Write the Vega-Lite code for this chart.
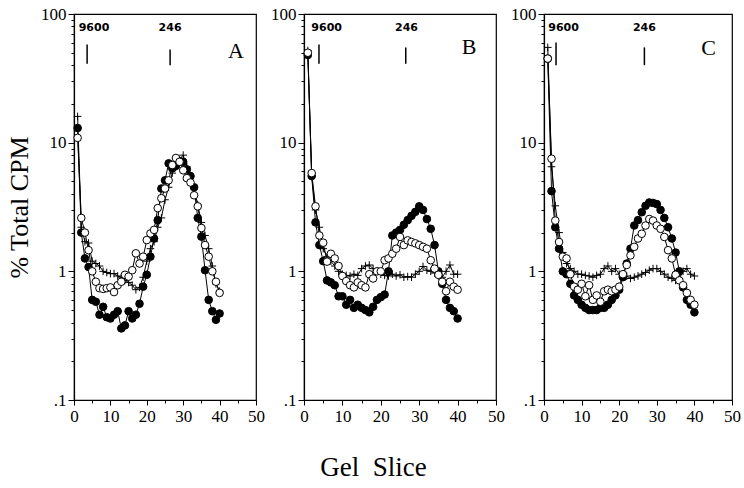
{
"$schema":"https://vega.github.io/schema/vega-lite/v6.json",
"background":"white",
"padding":{"left":5,"top":4,"right":4,"bottom":4},
"bounds":"flush",
"spacing":48,
"title":{"text":"Gel\u00a0\u00a0Slice","orient":"bottom","anchor":"middle","font":"Liberation Serif","fontSize":27,"fontWeight":"normal","color":"black","offset":30},
"config":{"view":{"stroke":"black","strokeWidth":1.2},"axis":{"grid":false,"domainColor":"black","tickColor":"black","labelColor":"black","titleColor":"black","labelFont":"Liberation Serif","titleFont":"Liberation Serif","labelFontSize":17,"titleFontSize":26,"titleFontWeight":"normal","labelFlush":false,"labelBound":false,"labelOverlap":false,"domainWidth":1.2,"tickWidth":1}},
"datasets":{
"pts":[
{"p":"A","s":"f","x":1,"y":13},{"p":"A","s":"f","x":2,"y":2.0},{"p":"A","s":"f","x":3,"y":1.26},{"p":"A","s":"f","x":4,"y":1.08},{"p":"A","s":"f","x":5,"y":0.6},{"p":"A","s":"f","x":6,"y":0.58},{"p":"A","s":"f","x":7,"y":0.46},{"p":"A","s":"f","x":8,"y":0.53},{"p":"A","s":"f","x":9,"y":0.44},{"p":"A","s":"f","x":10,"y":0.43},{"p":"A","s":"f","x":11,"y":0.46},{"p":"A","s":"f","x":12,"y":0.49},{"p":"A","s":"f","x":13,"y":0.36},{"p":"A","s":"f","x":14,"y":0.38},{"p":"A","s":"f","x":15,"y":0.49},{"p":"A","s":"f","x":16,"y":0.43},{"p":"A","s":"f","x":17,"y":0.46},{"p":"A","s":"f","x":18,"y":0.56},{"p":"A","s":"f","x":19,"y":0.76},{"p":"A","s":"f","x":20,"y":0.94},{"p":"A","s":"f","x":21,"y":1.3},{"p":"A","s":"f","x":22,"y":1.8},{"p":"A","s":"f","x":23,"y":2.5},{"p":"A","s":"f","x":24,"y":4.4},{"p":"A","s":"f","x":25,"y":5.1},{"p":"A","s":"f","x":26,"y":6.9},{"p":"A","s":"f","x":27,"y":6.3},{"p":"A","s":"f","x":28,"y":6.6},{"p":"A","s":"f","x":29,"y":7.2},{"p":"A","s":"f","x":30,"y":7.1},{"p":"A","s":"f","x":31,"y":6.2},{"p":"A","s":"f","x":32,"y":5.5},{"p":"A","s":"f","x":33,"y":4.5},{"p":"A","s":"f","x":34,"y":2.6},{"p":"A","s":"f","x":35,"y":1.86},{"p":"A","s":"f","x":36,"y":1.02},{"p":"A","s":"f","x":37,"y":0.6},{"p":"A","s":"f","x":38,"y":0.49},{"p":"A","s":"f","x":39,"y":0.42},{"p":"A","s":"f","x":40,"y":0.47},
{"p":"A","s":"c","x":1,"y":16},{"p":"A","s":"c","x":2,"y":2.2},{"p":"A","s":"c","x":3,"y":1.7},{"p":"A","s":"c","x":4,"y":1.66},{"p":"A","s":"c","x":5,"y":1.2},{"p":"A","s":"c","x":6,"y":1.15},{"p":"A","s":"c","x":7,"y":1.1},{"p":"A","s":"c","x":8,"y":1.0},{"p":"A","s":"c","x":9,"y":0.98},{"p":"A","s":"c","x":10,"y":0.96},{"p":"A","s":"c","x":11,"y":0.96},{"p":"A","s":"c","x":12,"y":0.92},{"p":"A","s":"c","x":13,"y":0.9},{"p":"A","s":"c","x":14,"y":0.85},{"p":"A","s":"c","x":15,"y":0.82},{"p":"A","s":"c","x":16,"y":0.78},{"p":"A","s":"c","x":17,"y":0.72},{"p":"A","s":"c","x":18,"y":0.75},{"p":"A","s":"c","x":19,"y":0.9},{"p":"A","s":"c","x":20,"y":1.2},{"p":"A","s":"c","x":21,"y":1.5},{"p":"A","s":"c","x":22,"y":1.7},{"p":"A","s":"c","x":23,"y":2.2},{"p":"A","s":"c","x":24,"y":2.6},{"p":"A","s":"c","x":25,"y":3.6},{"p":"A","s":"c","x":26,"y":4.5},{"p":"A","s":"c","x":27,"y":5.8},{"p":"A","s":"c","x":28,"y":6.5},{"p":"A","s":"c","x":29,"y":7.4},{"p":"A","s":"c","x":30,"y":8.0},{"p":"A","s":"c","x":31,"y":6.5},{"p":"A","s":"c","x":32,"y":5.5},{"p":"A","s":"c","x":33,"y":4.4},{"p":"A","s":"c","x":34,"y":3.3},{"p":"A","s":"c","x":35,"y":2.4},{"p":"A","s":"c","x":36,"y":1.9},{"p":"A","s":"c","x":37,"y":1.5},{"p":"A","s":"c","x":38,"y":1.1},{"p":"A","s":"c","x":39,"y":0.8},{"p":"A","s":"c","x":40,"y":0.7},
{"p":"A","s":"o","x":1,"y":10.9},{"p":"A","s":"o","x":2,"y":2.6},{"p":"A","s":"o","x":3,"y":2.0},{"p":"A","s":"o","x":4,"y":1.46},{"p":"A","s":"o","x":5,"y":1.0},{"p":"A","s":"o","x":6,"y":0.83},{"p":"A","s":"o","x":7,"y":0.74},{"p":"A","s":"o","x":8,"y":0.73},{"p":"A","s":"o","x":9,"y":0.74},{"p":"A","s":"o","x":10,"y":0.75},{"p":"A","s":"o","x":11,"y":0.69},{"p":"A","s":"o","x":12,"y":0.78},{"p":"A","s":"o","x":13,"y":0.83},{"p":"A","s":"o","x":14,"y":0.94},{"p":"A","s":"o","x":15,"y":0.91},{"p":"A","s":"o","x":16,"y":1.02},{"p":"A","s":"o","x":17,"y":1.38},{"p":"A","s":"o","x":18,"y":1.15},{"p":"A","s":"o","x":19,"y":1.3},{"p":"A","s":"o","x":20,"y":1.75},{"p":"A","s":"o","x":21,"y":1.97},{"p":"A","s":"o","x":22,"y":2.1},{"p":"A","s":"o","x":23,"y":3.1},{"p":"A","s":"o","x":24,"y":3.7},{"p":"A","s":"o","x":25,"y":4.4},{"p":"A","s":"o","x":26,"y":5.1},{"p":"A","s":"o","x":27,"y":6.7},{"p":"A","s":"o","x":28,"y":7.6},{"p":"A","s":"o","x":29,"y":7.1},{"p":"A","s":"o","x":30,"y":6.1},{"p":"A","s":"o","x":31,"y":5.3},{"p":"A","s":"o","x":32,"y":4.9},{"p":"A","s":"o","x":33,"y":3.9},{"p":"A","s":"o","x":34,"y":3.2},{"p":"A","s":"o","x":35,"y":2.17},{"p":"A","s":"o","x":36,"y":1.6},{"p":"A","s":"o","x":37,"y":1.3},{"p":"A","s":"o","x":38,"y":1.0},{"p":"A","s":"o","x":39,"y":0.83},{"p":"A","s":"o","x":40,"y":0.68},
{"p":"B","s":"f","x":1,"y":48},{"p":"B","s":"f","x":2,"y":5.5},{"p":"B","s":"f","x":3,"y":2.4},{"p":"B","s":"f","x":4,"y":1.6},{"p":"B","s":"f","x":5,"y":1.2},{"p":"B","s":"f","x":6,"y":0.85},{"p":"B","s":"f","x":7,"y":0.82},{"p":"B","s":"f","x":8,"y":0.78},{"p":"B","s":"f","x":9,"y":0.64},{"p":"B","s":"f","x":10,"y":0.64},{"p":"B","s":"f","x":11,"y":0.55},{"p":"B","s":"f","x":12,"y":0.6},{"p":"B","s":"f","x":13,"y":0.52},{"p":"B","s":"f","x":14,"y":0.55},{"p":"B","s":"f","x":15,"y":0.52},{"p":"B","s":"f","x":16,"y":0.5},{"p":"B","s":"f","x":17,"y":0.48},{"p":"B","s":"f","x":18,"y":0.53},{"p":"B","s":"f","x":19,"y":0.6},{"p":"B","s":"f","x":20,"y":0.63},{"p":"B","s":"f","x":21,"y":0.66},{"p":"B","s":"f","x":22,"y":1.0},{"p":"B","s":"f","x":23,"y":1.9},{"p":"B","s":"f","x":24,"y":2.0},{"p":"B","s":"f","x":25,"y":2.1},{"p":"B","s":"f","x":26,"y":2.3},{"p":"B","s":"f","x":27,"y":2.5},{"p":"B","s":"f","x":28,"y":2.7},{"p":"B","s":"f","x":29,"y":2.9},{"p":"B","s":"f","x":30,"y":3.2},{"p":"B","s":"f","x":31,"y":3.0},{"p":"B","s":"f","x":32,"y":2.55},{"p":"B","s":"f","x":33,"y":2.14},{"p":"B","s":"f","x":34,"y":1.6},{"p":"B","s":"f","x":35,"y":1.0},{"p":"B","s":"f","x":36,"y":0.8},{"p":"B","s":"f","x":37,"y":0.6},{"p":"B","s":"f","x":38,"y":0.52},{"p":"B","s":"f","x":39,"y":0.49},{"p":"B","s":"f","x":40,"y":0.43},
{"p":"B","s":"c","x":1,"y":52},{"p":"B","s":"c","x":2,"y":5.5},{"p":"B","s":"c","x":3,"y":3.0},{"p":"B","s":"c","x":4,"y":2.2},{"p":"B","s":"c","x":5,"y":1.5},{"p":"B","s":"c","x":6,"y":1.3},{"p":"B","s":"c","x":7,"y":1.2},{"p":"B","s":"c","x":8,"y":1.1},{"p":"B","s":"c","x":9,"y":1.0},{"p":"B","s":"c","x":10,"y":0.95},{"p":"B","s":"c","x":11,"y":0.93},{"p":"B","s":"c","x":12,"y":0.92},{"p":"B","s":"c","x":13,"y":0.95},{"p":"B","s":"c","x":14,"y":0.93},{"p":"B","s":"c","x":15,"y":1.05},{"p":"B","s":"c","x":16,"y":1.1},{"p":"B","s":"c","x":17,"y":1.12},{"p":"B","s":"c","x":18,"y":1.05},{"p":"B","s":"c","x":19,"y":1.0},{"p":"B","s":"c","x":20,"y":0.95},{"p":"B","s":"c","x":21,"y":0.93},{"p":"B","s":"c","x":22,"y":0.92},{"p":"B","s":"c","x":23,"y":0.95},{"p":"B","s":"c","x":24,"y":0.92},{"p":"B","s":"c","x":25,"y":0.94},{"p":"B","s":"c","x":26,"y":0.9},{"p":"B","s":"c","x":27,"y":0.91},{"p":"B","s":"c","x":28,"y":0.9},{"p":"B","s":"c","x":29,"y":0.95},{"p":"B","s":"c","x":30,"y":1.0},{"p":"B","s":"c","x":31,"y":1.09},{"p":"B","s":"c","x":32,"y":1.02},{"p":"B","s":"c","x":33,"y":1.0},{"p":"B","s":"c","x":34,"y":0.97},{"p":"B","s":"c","x":35,"y":0.92},{"p":"B","s":"c","x":36,"y":0.9},{"p":"B","s":"c","x":37,"y":1.0},{"p":"B","s":"c","x":38,"y":1.12},{"p":"B","s":"c","x":39,"y":0.95},{"p":"B","s":"c","x":40,"y":0.95},
{"p":"B","s":"o","x":1,"y":50},{"p":"B","s":"o","x":2,"y":5.8},{"p":"B","s":"o","x":3,"y":3.2},{"p":"B","s":"o","x":4,"y":1.9},{"p":"B","s":"o","x":5,"y":1.67},{"p":"B","s":"o","x":6,"y":1.19},{"p":"B","s":"o","x":7,"y":1.37},{"p":"B","s":"o","x":8,"y":1.26},{"p":"B","s":"o","x":9,"y":1.1},{"p":"B","s":"o","x":10,"y":0.92},{"p":"B","s":"o","x":11,"y":0.84},{"p":"B","s":"o","x":12,"y":0.78},{"p":"B","s":"o","x":13,"y":0.75},{"p":"B","s":"o","x":14,"y":0.82},{"p":"B","s":"o","x":15,"y":0.78},{"p":"B","s":"o","x":16,"y":0.75},{"p":"B","s":"o","x":17,"y":0.95},{"p":"B","s":"o","x":18,"y":0.88},{"p":"B","s":"o","x":19,"y":1.0},{"p":"B","s":"o","x":20,"y":1.0},{"p":"B","s":"o","x":21,"y":1.22},{"p":"B","s":"o","x":22,"y":1.26},{"p":"B","s":"o","x":23,"y":1.37},{"p":"B","s":"o","x":24,"y":1.5},{"p":"B","s":"o","x":25,"y":1.85},{"p":"B","s":"o","x":26,"y":1.6},{"p":"B","s":"o","x":27,"y":1.74},{"p":"B","s":"o","x":28,"y":1.69},{"p":"B","s":"o","x":29,"y":1.65},{"p":"B","s":"o","x":30,"y":1.6},{"p":"B","s":"o","x":31,"y":1.55},{"p":"B","s":"o","x":32,"y":1.5},{"p":"B","s":"o","x":33,"y":1.22},{"p":"B","s":"o","x":34,"y":1.05},{"p":"B","s":"o","x":35,"y":0.94},{"p":"B","s":"o","x":36,"y":0.83},{"p":"B","s":"o","x":37,"y":0.7},{"p":"B","s":"o","x":38,"y":0.83},{"p":"B","s":"o","x":39,"y":0.76},{"p":"B","s":"o","x":40,"y":0.72},
{"p":"C","s":"f","x":1,"y":45},{"p":"C","s":"f","x":2,"y":4.2},{"p":"C","s":"f","x":3,"y":2.2},{"p":"C","s":"f","x":4,"y":1.5},{"p":"C","s":"f","x":5,"y":1.0},{"p":"C","s":"f","x":6,"y":0.95},{"p":"C","s":"f","x":7,"y":0.8},{"p":"C","s":"f","x":8,"y":0.65},{"p":"C","s":"f","x":9,"y":0.6},{"p":"C","s":"f","x":10,"y":0.55},{"p":"C","s":"f","x":11,"y":0.52},{"p":"C","s":"f","x":12,"y":0.5},{"p":"C","s":"f","x":13,"y":0.5},{"p":"C","s":"f","x":14,"y":0.5},{"p":"C","s":"f","x":15,"y":0.52},{"p":"C","s":"f","x":16,"y":0.52},{"p":"C","s":"f","x":17,"y":0.55},{"p":"C","s":"f","x":18,"y":0.6},{"p":"C","s":"f","x":19,"y":0.65},{"p":"C","s":"f","x":20,"y":0.72},{"p":"C","s":"f","x":21,"y":0.9},{"p":"C","s":"f","x":22,"y":1.15},{"p":"C","s":"f","x":23,"y":1.5},{"p":"C","s":"f","x":24,"y":2.27},{"p":"C","s":"f","x":25,"y":2.5},{"p":"C","s":"f","x":26,"y":2.88},{"p":"C","s":"f","x":27,"y":3.23},{"p":"C","s":"f","x":28,"y":3.43},{"p":"C","s":"f","x":29,"y":3.4},{"p":"C","s":"f","x":30,"y":3.33},{"p":"C","s":"f","x":31,"y":3.0},{"p":"C","s":"f","x":32,"y":2.6},{"p":"C","s":"f","x":33,"y":2.2},{"p":"C","s":"f","x":34,"y":1.8},{"p":"C","s":"f","x":35,"y":1.4},{"p":"C","s":"f","x":36,"y":1.0},{"p":"C","s":"f","x":37,"y":0.75},{"p":"C","s":"f","x":38,"y":0.6},{"p":"C","s":"f","x":39,"y":0.55},{"p":"C","s":"f","x":40,"y":0.48},
{"p":"C","s":"c","x":1,"y":55},{"p":"C","s":"c","x":2,"y":6.5},{"p":"C","s":"c","x":3,"y":3.23},{"p":"C","s":"c","x":4,"y":2.0},{"p":"C","s":"c","x":5,"y":1.4},{"p":"C","s":"c","x":6,"y":1.15},{"p":"C","s":"c","x":7,"y":1.05},{"p":"C","s":"c","x":8,"y":1.0},{"p":"C","s":"c","x":9,"y":0.95},{"p":"C","s":"c","x":10,"y":0.95},{"p":"C","s":"c","x":11,"y":0.93},{"p":"C","s":"c","x":12,"y":0.92},{"p":"C","s":"c","x":13,"y":0.9},{"p":"C","s":"c","x":14,"y":0.93},{"p":"C","s":"c","x":15,"y":0.95},{"p":"C","s":"c","x":16,"y":1.05},{"p":"C","s":"c","x":17,"y":1.1},{"p":"C","s":"c","x":18,"y":1.0},{"p":"C","s":"c","x":19,"y":1.05},{"p":"C","s":"c","x":20,"y":0.95},{"p":"C","s":"c","x":21,"y":0.9},{"p":"C","s":"c","x":22,"y":0.92},{"p":"C","s":"c","x":23,"y":0.88},{"p":"C","s":"c","x":24,"y":0.9},{"p":"C","s":"c","x":25,"y":0.92},{"p":"C","s":"c","x":26,"y":0.95},{"p":"C","s":"c","x":27,"y":0.98},{"p":"C","s":"c","x":28,"y":1.02},{"p":"C","s":"c","x":29,"y":1.05},{"p":"C","s":"c","x":30,"y":1.05},{"p":"C","s":"c","x":31,"y":1.0},{"p":"C","s":"c","x":32,"y":0.95},{"p":"C","s":"c","x":33,"y":0.9},{"p":"C","s":"c","x":34,"y":0.88},{"p":"C","s":"c","x":35,"y":0.85},{"p":"C","s":"c","x":36,"y":0.88},{"p":"C","s":"c","x":37,"y":1.0},{"p":"C","s":"c","x":38,"y":1.05},{"p":"C","s":"c","x":39,"y":0.95},{"p":"C","s":"c","x":40,"y":0.92},
{"p":"C","s":"o","x":1,"y":45},{"p":"C","s":"o","x":2,"y":7.5},{"p":"C","s":"o","x":3,"y":2.48},{"p":"C","s":"o","x":4,"y":1.69},{"p":"C","s":"o","x":5,"y":1.3},{"p":"C","s":"o","x":6,"y":1.26},{"p":"C","s":"o","x":7,"y":0.95},{"p":"C","s":"o","x":8,"y":0.76},{"p":"C","s":"o","x":9,"y":0.72},{"p":"C","s":"o","x":10,"y":0.8},{"p":"C","s":"o","x":11,"y":0.64},{"p":"C","s":"o","x":12,"y":0.78},{"p":"C","s":"o","x":13,"y":0.6},{"p":"C","s":"o","x":14,"y":0.65},{"p":"C","s":"o","x":15,"y":0.58},{"p":"C","s":"o","x":16,"y":0.7},{"p":"C","s":"o","x":17,"y":0.72},{"p":"C","s":"o","x":18,"y":0.7},{"p":"C","s":"o","x":19,"y":0.72},{"p":"C","s":"o","x":20,"y":0.76},{"p":"C","s":"o","x":21,"y":0.95},{"p":"C","s":"o","x":22,"y":1.12},{"p":"C","s":"o","x":23,"y":1.33},{"p":"C","s":"o","x":24,"y":1.55},{"p":"C","s":"o","x":25,"y":1.8},{"p":"C","s":"o","x":26,"y":1.96},{"p":"C","s":"o","x":27,"y":2.27},{"p":"C","s":"o","x":28,"y":2.55},{"p":"C","s":"o","x":29,"y":2.48},{"p":"C","s":"o","x":30,"y":2.27},{"p":"C","s":"o","x":31,"y":2.14},{"p":"C","s":"o","x":32,"y":1.85},{"p":"C","s":"o","x":33,"y":1.46},{"p":"C","s":"o","x":34,"y":1.26},{"p":"C","s":"o","x":35,"y":0.94},{"p":"C","s":"o","x":36,"y":0.85},{"p":"C","s":"o","x":37,"y":0.78},{"p":"C","s":"o","x":38,"y":0.68},{"p":"C","s":"o","x":39,"y":0.6},{"p":"C","s":"o","x":40,"y":0.55}
],
"ann":[
{"p":"A","k":"lab","x":5.5,"y":78,"t":"9600"},{"p":"A","k":"lab","x":26.4,"y":78,"t":"246"},{"p":"A","k":"let","x":44.5,"y":52,"t":"A"},{"p":"A","k":"tick","x":3.6,"y":58,"y2":41},{"p":"A","k":"tick","x":26.4,"y":53,"y2":40},
{"p":"B","k":"lab","x":5.9,"y":78,"t":"9600"},{"p":"B","k":"lab","x":26.7,"y":78,"t":"246"},{"p":"B","k":"let","x":43,"y":55,"t":"B"},{"p":"B","k":"tick","x":3.9,"y":58,"y2":41},{"p":"B","k":"tick","x":26.5,"y":55,"y2":41},
{"p":"C","k":"lab","x":5.2,"y":78,"t":"9600"},{"p":"C","k":"lab","x":26.7,"y":78,"t":"246"},{"p":"C","k":"let","x":43.8,"y":54,"t":"C"},{"p":"C","k":"tick","x":3.2,"y":60,"y2":40},{"p":"C","k":"tick","x":26.7,"y":55,"y2":40}
]},
"data":{"name":"pts"},
"hconcat":[
{"width":182,"height":386,
"encoding":{
"x":{"field":"x","type":"quantitative","scale":{"domain":[0,50],"nice":false,"zero":false},"axis":{"title":null,"labelOverlap":false,"values":[0,5,10,15,20,25,30,35,40,45,50],"labelExpr":"datum.value % 10 == 0 ? '' + datum.value : ''","tickSize":{"condition":{"test":"datum.value % 10 == 0","value":5},"value":3},"labelPadding":3}},
"y":{"field":"y","type":"quantitative","scale":{"type":"log","domain":[0.1,100],"nice":false},"axis":{"title":"% Total CPM","labelOverlap":false,"titlePadding":8,"labelPadding":2,"values":[0.1,0.2,0.3,0.4,0.5,0.6,0.7,0.8,0.9,1,2,3,4,5,6,7,8,9,10,20,30,40,50,60,70,80,90,100],"labelExpr":"datum.value==0.1?'.1':datum.value==1?'1':datum.value==10?'10':datum.value==100?'100':''","tickSize":{"condition":{"test":"datum.value==0.1||datum.value==1||datum.value==10||datum.value==100","value":6},"value":3}}}},
"layer":[
{"transform":[{"filter":"datum.p=='A'"}],"mark":{"type":"line","color":"black","strokeWidth":1},"encoding":{"detail":{"field":"s"}}},
{"transform":[{"filter":"datum.p=='A'"}],"mark":{"type":"point","filled":true,"size":58,"stroke":"black","strokeWidth":1,"opacity":1},"encoding":{
"shape":{"field":"s","scale":{"domain":["f","o","c"],"range":["circle","circle","M-1,0H1M0,-1V1"]},"legend":null},
"fill":{"field":"s","scale":{"domain":["f","o","c"],"range":["black","white","transparent"]},"legend":null}}},
{"data":{"name":"ann"},"transform":[{"filter":"datum.p=='A' && datum.k=='tick'"}],"mark":{"type":"rule","color":"black","strokeWidth":1.5},"encoding":{"y2":{"field":"y2"}}},
{"data":{"name":"ann"},"transform":[{"filter":"datum.p=='A' && datum.k=='lab'"}],"mark":{"type":"text","font":"DejaVu Sans","fontSize":11,"fontWeight":"bold","align":"center","baseline":"middle","color":"black"},"encoding":{"text":{"field":"t"}}},
{"data":{"name":"ann"},"transform":[{"filter":"datum.p=='A' && datum.k=='let'"}],"mark":{"type":"text","font":"Liberation Serif","fontSize":22,"align":"center","baseline":"middle","color":"black"},"encoding":{"text":{"field":"t"}}}
]},
{"width":192,"height":386,
"encoding":{
"x":{"field":"x","type":"quantitative","scale":{"domain":[0,50],"nice":false,"zero":false},"axis":{"title":null,"labelOverlap":false,"values":[0,5,10,15,20,25,30,35,40,45,50],"labelExpr":"datum.value % 10 == 0 ? '' + datum.value : ''","tickSize":{"condition":{"test":"datum.value % 10 == 0","value":5},"value":3},"labelPadding":3}},
"y":{"field":"y","type":"quantitative","scale":{"type":"log","domain":[0.1,100],"nice":false},"axis":{"title":null,"labelOverlap":false,"labelPadding":2,"values":[0.1,0.2,0.3,0.4,0.5,0.6,0.7,0.8,0.9,1,2,3,4,5,6,7,8,9,10,20,30,40,50,60,70,80,90,100],"labelExpr":"datum.value==0.1?'.1':datum.value==1?'1':datum.value==10?'10':datum.value==100?'100':''","tickSize":{"condition":{"test":"datum.value==0.1||datum.value==1||datum.value==10||datum.value==100","value":6},"value":3}}}},
"layer":[
{"transform":[{"filter":"datum.p=='B'"}],"mark":{"type":"line","color":"black","strokeWidth":1},"encoding":{"detail":{"field":"s"}}},
{"transform":[{"filter":"datum.p=='B'"}],"mark":{"type":"point","filled":true,"size":58,"stroke":"black","strokeWidth":1,"opacity":1},"encoding":{
"shape":{"field":"s","scale":{"domain":["f","o","c"],"range":["circle","circle","M-1,0H1M0,-1V1"]},"legend":null},
"fill":{"field":"s","scale":{"domain":["f","o","c"],"range":["black","white","transparent"]},"legend":null}}},
{"data":{"name":"ann"},"transform":[{"filter":"datum.p=='B' && datum.k=='tick'"}],"mark":{"type":"rule","color":"black","strokeWidth":1.5},"encoding":{"y2":{"field":"y2"}}},
{"data":{"name":"ann"},"transform":[{"filter":"datum.p=='B' && datum.k=='lab'"}],"mark":{"type":"text","font":"DejaVu Sans","fontSize":11,"fontWeight":"bold","align":"center","baseline":"middle","color":"black"},"encoding":{"text":{"field":"t"}}},
{"data":{"name":"ann"},"transform":[{"filter":"datum.p=='B' && datum.k=='let'"}],"mark":{"type":"text","font":"Liberation Serif","fontSize":22,"align":"center","baseline":"middle","color":"black"},"encoding":{"text":{"field":"t"}}}
]},
{"width":188,"height":386,
"encoding":{
"x":{"field":"x","type":"quantitative","scale":{"domain":[0,50],"nice":false,"zero":false},"axis":{"title":null,"labelOverlap":false,"values":[0,5,10,15,20,25,30,35,40,45,50],"labelExpr":"datum.value % 10 == 0 ? '' + datum.value : ''","tickSize":{"condition":{"test":"datum.value % 10 == 0","value":5},"value":3},"labelPadding":3}},
"y":{"field":"y","type":"quantitative","scale":{"type":"log","domain":[0.1,100],"nice":false},"axis":{"title":null,"labelOverlap":false,"labelPadding":2,"values":[0.1,0.2,0.3,0.4,0.5,0.6,0.7,0.8,0.9,1,2,3,4,5,6,7,8,9,10,20,30,40,50,60,70,80,90,100],"labelExpr":"datum.value==0.1?'.1':datum.value==1?'1':datum.value==10?'10':datum.value==100?'100':''","tickSize":{"condition":{"test":"datum.value==0.1||datum.value==1||datum.value==10||datum.value==100","value":6},"value":3}}}},
"layer":[
{"transform":[{"filter":"datum.p=='C'"}],"mark":{"type":"line","color":"black","strokeWidth":1},"encoding":{"detail":{"field":"s"}}},
{"transform":[{"filter":"datum.p=='C'"}],"mark":{"type":"point","filled":true,"size":58,"stroke":"black","strokeWidth":1,"opacity":1},"encoding":{
"shape":{"field":"s","scale":{"domain":["f","o","c"],"range":["circle","circle","M-1,0H1M0,-1V1"]},"legend":null},
"fill":{"field":"s","scale":{"domain":["f","o","c"],"range":["black","white","transparent"]},"legend":null}}},
{"data":{"name":"ann"},"transform":[{"filter":"datum.p=='C' && datum.k=='tick'"}],"mark":{"type":"rule","color":"black","strokeWidth":1.5},"encoding":{"y2":{"field":"y2"}}},
{"data":{"name":"ann"},"transform":[{"filter":"datum.p=='C' && datum.k=='lab'"}],"mark":{"type":"text","font":"DejaVu Sans","fontSize":11,"fontWeight":"bold","align":"center","baseline":"middle","color":"black"},"encoding":{"text":{"field":"t"}}},
{"data":{"name":"ann"},"transform":[{"filter":"datum.p=='C' && datum.k=='let'"}],"mark":{"type":"text","font":"Liberation Serif","fontSize":22,"align":"center","baseline":"middle","color":"black"},"encoding":{"text":{"field":"t"}}}
]}
]
}
